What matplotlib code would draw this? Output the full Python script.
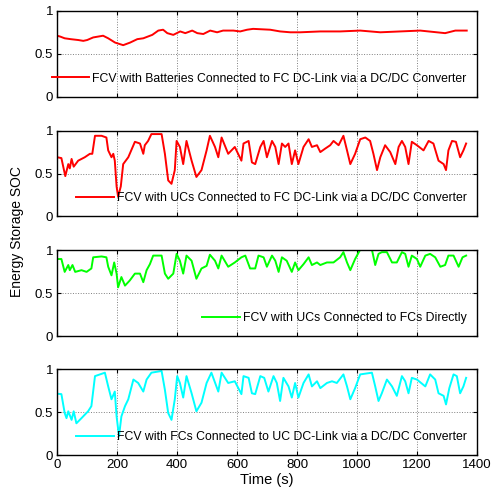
import numpy as np
import matplotlib
matplotlib.use('Agg')
import matplotlib.pyplot as plt

plt.rcParams['font.family'] = ['Liberation Sans', 'DejaVu Sans']

# 电池 -> FC 直流母线
t_bat = [0, 10, 25, 45, 70, 87, 100, 120, 153, 170, 193, 220, 243, 267, 287, 317, 337, 353,
         367, 387, 410, 427, 450, 467, 487, 510, 533, 553, 587, 610, 633, 653, 710, 743, 777,
         810, 877, 943, 1010, 1077, 1143, 1210, 1293, 1327, 1365]
soc_bat = [0.71, 0.70, 0.68, 0.67, 0.66, 0.65, 0.66, 0.69, 0.71, 0.68, 0.63, 0.60, 0.63, 0.67,
           0.68, 0.72, 0.77, 0.78, 0.74, 0.72, 0.76, 0.74, 0.77, 0.74, 0.73, 0.77, 0.75, 0.77,
           0.77, 0.76, 0.78, 0.79, 0.78, 0.76, 0.75, 0.75, 0.76, 0.76, 0.77, 0.75, 0.76, 0.77,
           0.74, 0.77, 0.77]

# 超级电容 -> FC 直流母线
t_uc_fc = [0, 14, 27, 37, 42, 48, 55, 70, 81, 92, 109, 117, 126, 148, 164, 170, 181, 187, 192,
           198, 203, 212, 220, 237, 259, 276, 287, 292, 303, 314, 348, 359, 370, 381, 392, 398,
           409, 420, 431, 448, 464, 481, 498, 509, 526, 537, 548, 570, 592, 603, 614, 621, 638,
           649, 660, 677, 688, 699, 716, 727, 738, 749, 760, 771, 782, 793, 804, 821, 838, 849,
           866, 877, 893, 910, 921, 938, 954, 966, 977, 993, 1010, 1027, 1043, 1054, 1066, 1077,
           1093, 1110, 1127, 1138, 1149, 1160, 1171, 1182, 1199, 1221, 1238, 1254, 1271, 1288,
           1296, 1304, 1316, 1329, 1343, 1354, 1363]
soc_uc_fc = [0.69, 0.68, 0.47, 0.61, 0.56, 0.67, 0.58, 0.65, 0.67, 0.69, 0.73, 0.73, 0.94, 0.94,
             0.92, 0.77, 0.69, 0.73, 0.65, 0.35, 0.23, 0.35, 0.61, 0.69, 0.87, 0.85, 0.73, 0.83,
             0.88, 0.96, 0.96, 0.73, 0.42, 0.38, 0.54, 0.88, 0.81, 0.61, 0.88, 0.65, 0.46, 0.54,
             0.77, 0.94, 0.81, 0.69, 0.92, 0.73, 0.81, 0.73, 0.65, 0.85, 0.88, 0.63, 0.61, 0.81,
             0.88, 0.69, 0.88, 0.81, 0.61, 0.85, 0.81, 0.85, 0.61, 0.77, 0.61, 0.81, 0.90, 0.81,
             0.83, 0.75, 0.79, 0.83, 0.88, 0.83, 0.94, 0.77, 0.61, 0.73, 0.90, 0.92, 0.88, 0.73,
             0.54, 0.69, 0.83, 0.75, 0.61, 0.81, 0.88, 0.81, 0.61, 0.87, 0.83, 0.77, 0.88, 0.85,
             0.65, 0.61, 0.54, 0.77, 0.88, 0.87, 0.69, 0.77, 0.85]

# 超级电容直接连 FC
t_uc_dir = [0, 14, 25, 37, 42, 51, 60, 81, 98, 114, 120, 148, 164, 170, 181, 190, 198, 203, 214,
            226, 242, 259, 276, 287, 298, 309, 320, 348, 359, 370, 387, 398, 409, 420, 431, 448,
            464, 481, 498, 509, 526, 537, 548, 570, 592, 614, 627, 643, 660, 671, 688, 699, 716,
            727, 738, 749, 765, 782, 793, 804, 821, 838, 849, 866, 877, 899, 921, 943, 954, 966,
            977, 993, 1010, 1021, 1049, 1060, 1071, 1082, 1099, 1116, 1132, 1149, 1160, 1171,
            1182, 1199, 1210, 1227, 1243, 1260, 1277, 1293, 1304, 1321, 1338, 1351, 1363]
soc_uc_dir = [0.90, 0.90, 0.75, 0.83, 0.77, 0.83, 0.75, 0.77, 0.75, 0.79, 0.92, 0.93, 0.92, 0.81,
              0.71, 0.86, 0.73, 0.57, 0.69, 0.59, 0.65, 0.73, 0.73, 0.63, 0.77, 0.84, 0.94, 0.94,
              0.73, 0.67, 0.73, 0.96, 0.88, 0.73, 0.94, 0.88, 0.67, 0.79, 0.82, 0.95, 0.88, 0.79,
              0.94, 0.81, 0.86, 0.92, 0.94, 0.79, 0.79, 0.94, 0.92, 0.81, 0.94, 0.88, 0.75, 0.92,
              0.88, 0.75, 0.86, 0.77, 0.84, 0.92, 0.83, 0.86, 0.83, 0.86, 0.86, 0.92, 0.98, 0.86,
              0.77, 0.90, 1.01, 1.02, 1.01, 0.83, 0.96, 0.98, 0.98, 0.86, 0.86, 0.98, 0.96, 0.81,
              0.94, 0.90, 0.81, 0.94, 0.96, 0.92, 0.81, 0.83, 0.94, 0.94, 0.81, 0.92, 0.94]

# FC -> UC 直流母线
t_fc_uc = [0, 14, 25, 31, 37, 48, 55, 64, 81, 92, 103, 114, 126, 159, 170, 181, 192, 198, 206,
           214, 226, 237, 254, 270, 287, 298, 314, 348, 359, 370, 381, 392, 400, 409, 420, 431,
           448, 464, 481, 498, 514, 537, 548, 570, 592, 614, 621, 638, 649, 660, 677, 690, 704,
           721, 732, 743, 754, 771, 782, 793, 804, 821, 838, 849, 866, 877, 899, 916, 932, 954,
           966, 977, 993, 1010, 1049, 1060, 1071, 1082, 1099, 1116, 1132, 1149, 1160, 1171,
           1182, 1199, 1227, 1243, 1260, 1271, 1288, 1296, 1307, 1321, 1332, 1343, 1354, 1363]
soc_fc_uc = [0.715, 0.71, 0.49, 0.43, 0.51, 0.41, 0.51, 0.37, 0.43, 0.47, 0.51, 0.57, 0.92, 0.96,
             0.80, 0.65, 0.74, 0.45, 0.22, 0.45, 0.57, 0.65, 0.88, 0.84, 0.74, 0.88, 0.96, 0.98,
             0.76, 0.49, 0.41, 0.65, 0.92, 0.84, 0.67, 0.92, 0.72, 0.51, 0.61, 0.84, 0.96, 0.74,
             0.96, 0.84, 0.86, 0.71, 0.92, 0.90, 0.72, 0.71, 0.92, 0.90, 0.74, 0.92, 0.84, 0.63,
             0.90, 0.80, 0.67, 0.84, 0.67, 0.84, 0.94, 0.80, 0.86, 0.78, 0.84, 0.86, 0.84, 0.94,
             0.80, 0.65, 0.78, 0.94, 0.96, 0.80, 0.63, 0.72, 0.88, 0.80, 0.69, 0.92, 0.86, 0.72,
             0.90, 0.88, 0.80, 0.94, 0.88, 0.72, 0.69, 0.59, 0.78, 0.94, 0.92, 0.72, 0.80, 0.90]

series = [
    (t_bat, soc_bat, '#ff0000', 'FCV with Batteries Connected to FC DC-Link via a DC/DC Converter'),
    (t_uc_fc, soc_uc_fc, '#ff0000', 'FCV with UCs Connected to FC DC-Link via a DC/DC Converter'),
    (t_uc_dir, soc_uc_dir, '#00ff00', 'FCV with UCs Connected to FCs Directly'),
    (t_fc_uc, soc_fc_uc, '#00ffff', 'FCV with FCs Connected to UC DC-Link via a DC/DC Converter'),
]

fig = plt.figure(figsize=(4.93, 4.93), dpi=100)
left, width = 0.116, 0.852
bottoms = [0.804, 0.561, 0.318, 0.077]
height = 0.174

for i, (t, s, c, lab) in enumerate(series):
    ax = fig.add_axes([left, bottoms[i], width, height])
    ax.plot(t, s, color=c, lw=1.4, label=lab)
    ax.set_xlim(0, 1400)
    ax.set_ylim(0, 1)
    ax.set_xticks(np.arange(0, 1401, 200))
    ax.set_yticks([0, 0.5, 1])
    ax.set_yticklabels(['0', '0.5', '1'])
    ax.grid(True, linestyle=':', color='#808080', lw=0.7)
    ax.tick_params(direction='in', top=True, right=True, labelsize=9.5, length=3, pad=3)
    for sp in ax.spines.values():
        sp.set_linewidth(1.0)
    if i < 3:
        ax.tick_params(labelbottom=False)
    else:
        ax.set_xlabel('Time (s)', fontsize=10.5, labelpad=1)
    ax.legend(loc='center right', bbox_to_anchor=(0.975, 0.21), frameon=False,
              fontsize=8.8, handlelength=3.1, handletextpad=0.25,
              borderpad=0, borderaxespad=0)

fig.text(0.035, 0.53, 'Energy Storage SOC', rotation=90, ha='center', va='center', fontsize=10)

fig.savefig('out.png', dpi=100)
